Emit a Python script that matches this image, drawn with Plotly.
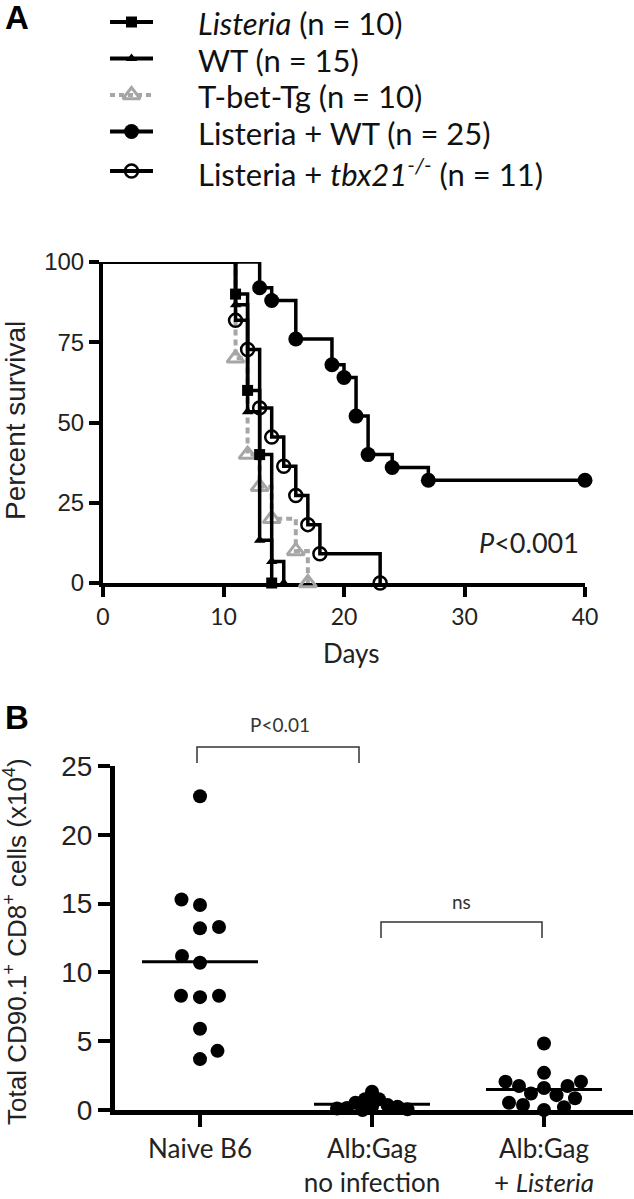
import plotly.graph_objects as go

W, H = 634, 1199

# ---------------- Panel A data (Kaplan-Meier steps) ----------------
days_listeria = [0, 11, 12, 13, 14]
surv_listeria = [100, 90, 60, 40, 0]
days_wt = [0, 11, 12, 13, 14, 15]
surv_wt = [100, 86.67, 53.33, 13.33, 6.67, 0]
days_tbet = [0, 11, 12, 13, 14, 16, 17]
surv_tbet = [100, 70, 40, 30, 20, 10, 0]
days_lis_wt = [0, 13, 14, 16, 19, 20, 21, 22, 24, 27, 40]
surv_lis_wt = [100, 92, 88, 76, 68, 64, 52, 40, 36, 32, 32]
days_lis_tbx = [0, 11, 12, 13, 14, 15, 16, 17, 18, 23]
surv_lis_tbx = [100, 81.82, 72.73, 54.55, 45.45, 36.36, 27.27, 18.18, 9.09, 0]

legend_labels = [
    "<i>Listeria</i> (n = 10)",
    "WT (n = 15)",
    "T-bet-Tg (n = 10)",
    "Listeria + WT (n = 25)",
    "Listeria + <i>tbx21</i><sup><i>-/-</i></sup> (n = 11)",
]
x_ticks_a = [0, 10, 20, 30, 40]
y_ticks_a = [0, 25, 50, 75, 100]

# ---------------- Panel B data ----------------
categories = ["Naive B6", "Alb:Gag<br>no infection", "Alb:Gag<br>+ <i>Listeria</i>"]
naive_b6 = [22.8, 14.9, 15.3, 13.2, 13.3, 10.7, 11.2, 8.2, 8.3, 8.3, 5.9, 3.7, 4.3]
alb_gag_noinf = [1.33, 0.24, 0.78, 0.78, 0.53, 0.36, 0.24, 0.14, 0.10, 0.05, 0.0]
alb_gag_listeria = [4.83, 1.6, 0.0, 1.2, 1.08, 2.7, 1.74, 1.74, 0.36, 0.2, 2.06, 2.06, 0.85, 0.53]
y_ticks_b = [0, 5, 10, 15, 20, 25]

# ---------------- helpers ----------------
def fx(px):
    return px / W


def fy(py):
    return 1 - py / H


GRAY = "#a6a6a6"
LATO = "Lato"
ARIAL = "Liberation Sans"

styles = {
    "listeria": dict(x=days_listeria, y=surv_listeria, color="black", dash="solid", lw=3.5,
                     sym="square", size=11, mlw=0),
    "wt": dict(x=days_wt, y=surv_wt, color="black", dash="solid", lw=3.5,
               sym="triangle-up", size=10, mlw=0),
    "tbet": dict(x=days_tbet, y=surv_tbet, color=GRAY, dash="6px,4px", lw=4,
                 sym="triangle-up-open", size=15, mlw=3),
    "lis_wt": dict(x=days_lis_wt, y=surv_lis_wt, color="black", dash="solid", lw=3.5,
                   sym="circle", size=15, mlw=0),
    "lis_tbx": dict(x=days_lis_tbx, y=surv_lis_tbx, color="black", dash="solid", lw=3.5,
                    sym="circle-open", size=13, mlw=2.5),
}
legend_order = ["listeria", "wt", "tbet", "lis_wt", "lis_tbx"]
draw_order = ["tbet", "lis_wt", "lis_tbx", "listeria", "wt"]

fig = go.Figure()

for key in draw_order:
    s = styles[key]
    sizes = [0] + [s["size"]] * (len(s["x"]) - 1)
    fig.add_trace(go.Scatter(
        x=s["x"], y=s["y"], mode="lines+markers", line_shape="hv",
        line=dict(color=s["color"], width=s["lw"], dash=s["dash"]),
        marker=dict(symbol=s["sym"], size=sizes, color=s["color"], opacity=1,
                    line=dict(width=s["mlw"], color=s["color"])),
        cliponaxis=False, showlegend=False, xaxis="x", yaxis="y",
    ))

# ---------------- Panel B: swarm positions computed from values ----------------
PX_PER_CAT = 172.0
PX_PER_UNIT_B = (1110 - 766) / 25.0


def swarm(values, center, diam):
    placed = []
    xs = []
    pref = -1
    for v in values:
        yv = v * PX_PER_UNIT_B
        chosen = None
        k = 0
        while chosen is None:
            cands = [0.0] if k == 0 else [pref * k * 0.5, -pref * k * 0.5]
            for dx in cands:
                if all((dx - px) ** 2 + (yv - py) ** 2 >= diam ** 2 for px, py in placed):
                    chosen = dx
                    break
            k += 1
        if chosen != 0:
            pref = -pref
        placed.append((chosen, yv))
        xs.append(center + chosen / PX_PER_CAT)
    return xs


groups = [naive_b6, alb_gag_noinf, alb_gag_listeria]
spacing = [19, 10, 14]
for i, vals in enumerate(groups):
    c = i + 1
    fig.add_trace(go.Scatter(
        x=swarm(vals, c, spacing[i]), y=vals, mode="markers",
        marker=dict(symbol="circle", size=14, color="black", opacity=1),
        cliponaxis=False, showlegend=False, xaxis="x2", yaxis="y2",
    ))
    m = sum(vals) / len(vals)
    half = 58 / PX_PER_CAT
    fig.add_trace(go.Scatter(
        x=[c - half, c + half], y=[m, m], mode="lines",
        line=dict(color="black", width=3), cliponaxis=False,
        showlegend=False, xaxis="x2", yaxis="y2",
    ))

# ---------------- manual legend (overlay axes in pixel units) ----------------
ROW0, ROWGAP = 22, 36.5
row_y = [ROW0 + ROWGAP * r + (3 if r == 4 else 0) for r in range(5)]
for row, key in enumerate(legend_order):
    s = styles[key]
    fig.add_trace(go.Scatter(
        x=[110, 131.5, 153], y=[row_y[row]] * 3, mode="lines+markers",
        line=dict(color=s["color"], width=4,
                  dash="5px,4px" if s["dash"] != "solid" else "solid"),
        marker=dict(symbol=s["sym"], size=[0, s["size"], 0], color=s["color"], opacity=1,
                    line=dict(width=s["mlw"], color=s["color"])),
        cliponaxis=False, showlegend=False, xaxis="x3", yaxis="y3",
    ))

annotations = []
for row, key in enumerate(legend_order):
    annotations.append(dict(
        text=legend_labels[row], x=fx(196), y=fy(row_y[row] + (2 if row == 4 else 1)),
        xanchor="left", yanchor="middle",
        font=dict(family=LATO, size=31, color="#111"),
    ))

annotations += [
    dict(text="<b>A</b>", x=fx(3), y=fy(18), xanchor="left", yanchor="middle",
         font=dict(family=ARIAL, size=33, color="black")),
    dict(text="<b>B</b>", x=fx(3), y=fy(717), xanchor="left", yanchor="middle",
         font=dict(family=ARIAL, size=33, color="black")),
    dict(text="Percent survival", x=fx(15), y=fy(421), textangle=-90,
         xanchor="center", yanchor="middle",
         font=dict(family=ARIAL, size=28, color="#222")),
    dict(text="Days", x=fx(351), y=fy(653), xanchor="center", yanchor="middle",
         font=dict(family=LATO, size=26, color="#222")),
    dict(text="<i>P</i>&lt;0.001", x=fx(581), y=fy(542), xanchor="right", yanchor="middle",
         font=dict(family=LATO, size=27, color="#222")),
    dict(text="Total CD90.1<sup>+</sup> CD8<sup>+</sup> cells (x10<sup>4</sup>)",
         x=fx(15), y=fy(942), textangle=-90, xanchor="center", yanchor="middle",
         font=dict(family=ARIAL, size=26, color="#222")),
    dict(text="P&lt;0.01", x=fx(280), y=fy(725), xanchor="center", yanchor="middle",
         font=dict(family=LATO, size=19, color="#333")),
    dict(text="ns", x=fx(461), y=fy(901), xanchor="center", yanchor="middle",
         font=dict(family=LATO, size=19, color="#333")),
]
for a in annotations:
    a["xref"] = "paper"
    a["yref"] = "paper"
    a["showarrow"] = False


def bracket(x0, x1, ytop, ybot):
    return dict(type="path", xref="paper", yref="paper",
                path=f"M {fx(x0)},{fy(ybot)} L {fx(x0)},{fy(ytop)} L {fx(x1)},{fy(ytop)} L {fx(x1)},{fy(ybot)}",
                line=dict(color="#333", width=1.5))


shapes = [bracket(197, 359, 747, 763), bracket(381, 542, 922, 938)]

axis_common = dict(showgrid=False, zeroline=False, showline=True, linecolor="black",
                   ticks="outside", tickcolor="black", automargin=False,
                   layer="below traces")

fig.update_layout(
    width=W, height=H, autosize=False,
    margin=dict(l=0, r=0, t=0, b=0, pad=0),
    paper_bgcolor="white", plot_bgcolor="rgba(0,0,0,0)",
    showlegend=False,
    annotations=annotations, shapes=shapes,
    xaxis=dict(domain=[fx(103), fx(585)], range=[0, 40], anchor="y",
               tickvals=x_ticks_a, linewidth=4, tickwidth=4, ticklen=10,
               tickfont=dict(family=LATO, size=23, color="#222"), **axis_common),
    yaxis=dict(domain=[fy(583), fy(262)], range=[0, 100], anchor="x",
               tickvals=y_ticks_a, linewidth=4, tickwidth=4, ticklen=10,
               tickfont=dict(family=ARIAL, size=24, color="#222"), **axis_common),
    xaxis2=dict(domain=[fx(115), fx(633)],
                range=[1 - (200 - 115) / PX_PER_CAT, 3 + (633 - 544) / PX_PER_CAT],
                anchor="y2", tickvals=[1, 2, 3], ticktext=categories,
                linewidth=5, tickwidth=4, ticklen=12,
                tickfont=dict(family=LATO, size=26, color="#222"), **axis_common),
    yaxis2=dict(domain=[fy(1110), fy(766)], range=[0, 25], anchor="x2",
                tickvals=y_ticks_b, linewidth=5, tickwidth=4, ticklen=12,
                tickfont=dict(family=ARIAL, size=28, color="#222"), **axis_common),
    xaxis3=dict(domain=[0, 1], range=[0, W], anchor="y3", visible=False,
                fixedrange=True),
    yaxis3=dict(domain=[0, 1], range=[H, 0], anchor="x3", visible=False,
                fixedrange=True),
)

fig.write_html(
    "out.html",
    config={"displayModeBar": False},
    post_script="document.body.style.margin='0';document.body.style.overflow='hidden';",
)
